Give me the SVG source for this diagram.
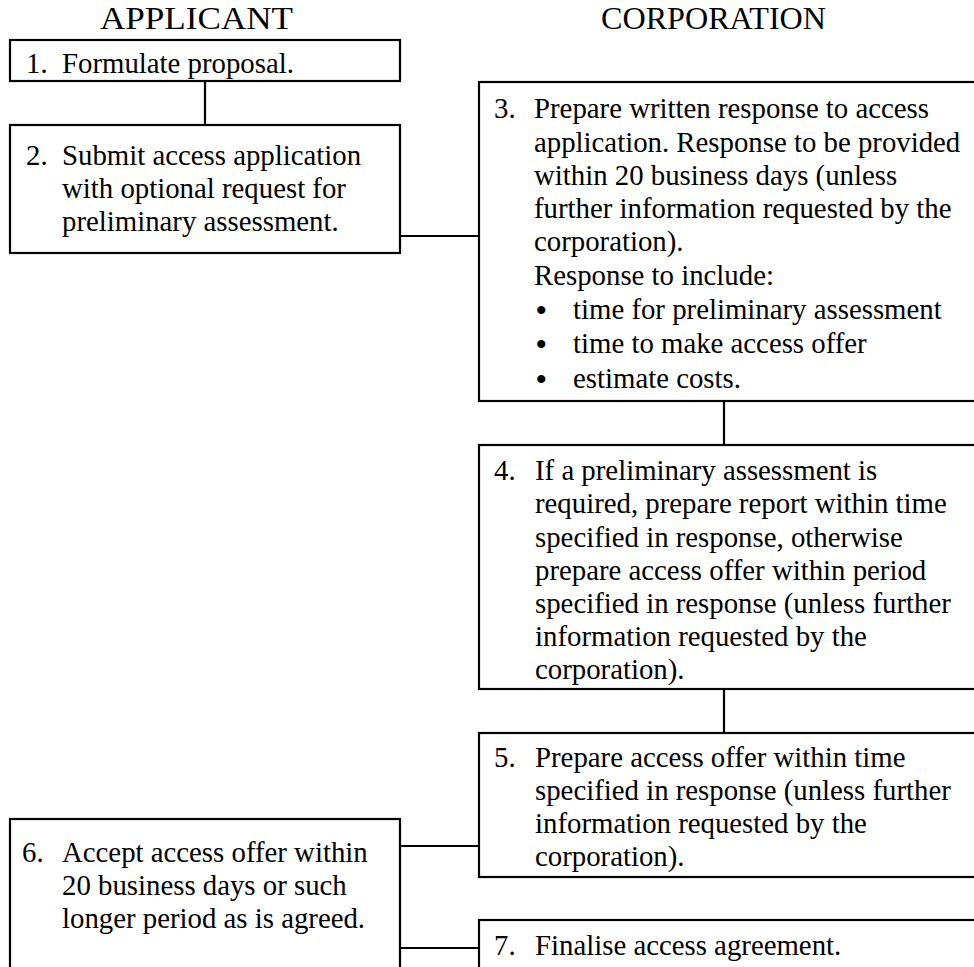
<svg xmlns="http://www.w3.org/2000/svg" width="974" height="967" viewBox="0 0 974 967">
<style>
text { font-family: "Liberation Serif", "Times New Roman", serif; font-size: 28.8px; fill: #000; }
.hdr { font-size: 31.5px; text-anchor: middle; }
.bul { font-size: 30px; font-weight: bold; }
.box { fill: #fff; stroke: #000; stroke-width: 2.2; }
.conn line { stroke: #000; stroke-width: 2.2; }
</style>
<rect width="974" height="967" fill="#fff"/>
<text class="hdr" x="196.5" y="29" textLength="193" lengthAdjust="spacingAndGlyphs">APPLICANT</text>
<text class="hdr" x="713.5" y="29" textLength="225" lengthAdjust="spacingAndGlyphs">CORPORATION</text>
<g class="conn" id="connectors">
<line x1="205" y1="81" x2="205" y2="125"/>
<line x1="400" y1="236" x2="479" y2="236"/>
<line x1="724" y1="401" x2="724" y2="445"/>
<line x1="724" y1="689" x2="724" y2="733"/>
<line x1="400" y1="846" x2="479" y2="846"/>
<line x1="400" y1="948" x2="479" y2="948"/>
</g>
<g id="node1">
<rect class="box" x="10" y="40" width="390" height="41"/>
<text x="26" y="73">1.</text><text x="62" y="73">Formulate proposal.</text>
</g>
<g id="node2">
<rect class="box" x="10" y="125" width="390" height="128"/>
<text x="26" y="165">2.</text>
<text x="62" y="165">Submit access application</text>
<text x="62" y="198">with optional request for</text>
<text x="62" y="231">preliminary assessment.</text>
</g>
<g id="node3">
<rect class="box" x="479" y="82" width="520" height="319"/>
<text x="494" y="118">3.</text>
<text x="534" y="118">Prepare written response to access</text>
<text x="534" y="151.5">application. Response to be provided</text>
<text x="534" y="184.5">within 20 business days (unless</text>
<text x="534" y="217.5">further information requested by the</text>
<text x="534" y="250.5">corporation).</text>
<text x="534" y="284.5">Response to include:</text>
<text class="bul" x="536" y="320">•</text><text x="573" y="319">time for preliminary assessment</text>
<text class="bul" x="536" y="354">•</text><text x="573" y="353">time to make access offer</text>
<text class="bul" x="536" y="389">•</text><text x="573" y="388">estimate costs.</text>
</g>
<g id="node4">
<rect class="box" x="479" y="445" width="520" height="244"/>
<text x="494" y="480">4.</text>
<text x="535" y="480">If a preliminary assessment is</text>
<text x="535" y="513">required, prepare report within time</text>
<text x="535" y="546.5">specified in response, otherwise</text>
<text x="535" y="579.5">prepare access offer within period</text>
<text x="535" y="612.5">specified in response (unless further</text>
<text x="535" y="646">information requested by the</text>
<text x="535" y="679">corporation).</text>
</g>
<g id="node5">
<rect class="box" x="479" y="733" width="520" height="144"/>
<text x="494" y="767">5.</text>
<text x="535" y="767">Prepare access offer within time</text>
<text x="535" y="800">specified in response (unless further</text>
<text x="535" y="833">information requested by the</text>
<text x="535" y="866">corporation).</text>
</g>
<g id="node6">
<rect class="box" x="10" y="819" width="390" height="170"/>
<text x="22" y="862">6.</text>
<text x="62" y="862">Accept access offer within</text>
<text x="62" y="895">20 business days or such</text>
<text x="62" y="928">longer period as is agreed.</text>
</g>
<g id="node7">
<rect class="box" x="479" y="920" width="520" height="70"/>
<text x="494" y="955">7.</text>
<text x="535" y="955">Finalise access agreement.</text>
</g>
</svg>
